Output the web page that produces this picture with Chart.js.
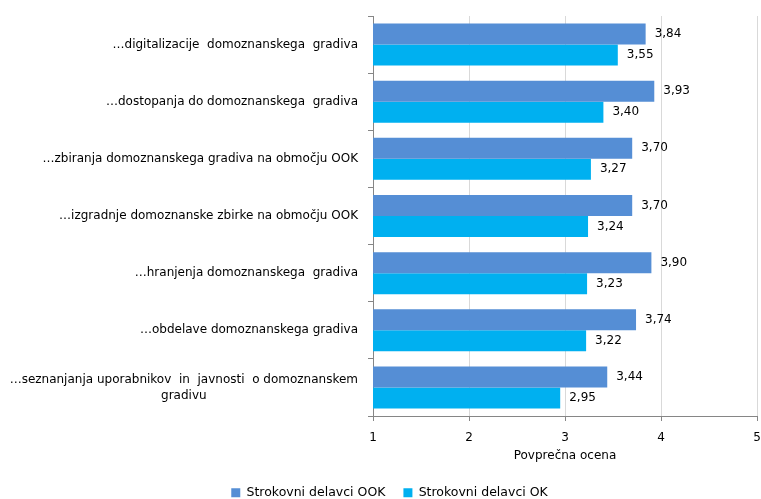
<!DOCTYPE html>
<html>
<head>
<meta charset="utf-8">
<script src="https://cdn.jsdelivr.net/npm/chart.js@4.4.0/dist/chart.umd.min.js"></script>
<style>
  html, body { margin: 0; padding: 0; background: #fff; }
  #wrap { width: 761px; height: 499px; }
</style>
</head>
<body>
<div id="wrap"><canvas id="ch"></canvas></div>
<script>
  // podatki
  const kategorije = [
    ['…digitalizacije  domoznanskega  gradiva'],
    ['…dostopanja do domoznanskega  gradiva'],
    ['…zbiranja domoznanskega gradiva na območju OOK'],
    ['…izgradnje domoznanske zbirke na območju OOK'],
    ['…hranjenja domoznanskega  gradiva'],
    ['…obdelave domoznanskega gradiva'],
    ['…seznanjanja uporabnikov  in  javnosti  o domoznanskem', 'gradivu'],
  ];
  const ocenaOOK = [3.84, 3.93, 3.70, 3.70, 3.90, 3.74, 3.44];
  const ocenaOK = [3.55, 3.40, 3.27, 3.24, 3.23, 3.22, 2.95];
  const serije = ['Strokovni delavci OOK', 'Strokovni delavci OK'];
  const osX = { min: 1, max: 5, korak: 1, naslov: 'Povprečna ocena' };

  const pisava = "'DejaVu Sans', sans-serif";
  const siva = '#868686';
  const mreza = '#d9d9d9';

  // oznake vrednosti ob koncu stolpcev
  const oznakeVrednosti = {
    id: 'oznakeVrednosti',
    afterDatasetsDraw(chart) {
      const c = chart.ctx;
      c.save();
      c.font = '12px ' + pisava;
      c.fillStyle = '#000';
      c.textAlign = 'left';
      c.textBaseline = 'middle';
      chart.data.datasets.forEach((ds, i) => {
        chart.getDatasetMeta(i).data.forEach((el, j) => {
          c.fillText(ds.data[j].toFixed(2).replace('.', ','), el.x + 9, el.y);
        });
      });
      c.restore();
    },
  };

  // oznake kategorij (zadnja je v dveh vrsticah, sredinsko poravnana)
  const oznakeKategorij = {
    id: 'oznakeKategorij',
    afterDraw(chart) {
      const c = chart.ctx;
      const y = chart.scales.y;
      const desno = y.right - 15;
      const lh = 16;
      c.save();
      c.font = '12px ' + pisava;
      c.fillStyle = '#000';
      c.textAlign = 'center';
      c.textBaseline = 'middle';
      kategorije.forEach((vrst, i) => {
        const sred = y.getPixelForTick(i);
        const w = Math.max(...vrst.map(t => c.measureText(t).width));
        const x = desno - w / 2;
        vrst.forEach((t, k) => {
          c.fillText(t, x, sred + (k - (vrst.length - 1) / 2) * lh);
        });
      });
      c.restore();
    },
  };

  new Chart(document.getElementById('ch'), {
    type: 'bar',
    data: {
      labels: kategorije,
      datasets: [
        { label: serije[0], data: ocenaOOK, backgroundColor: '#558ed5' },
        { label: serije[1], data: ocenaOK, backgroundColor: '#00b0f0' },
      ],
    },
    plugins: [oznakeVrednosti, oznakeKategorij],
    options: {
      indexAxis: 'y',
      responsive: true, maintainAspectRatio: false,
      animation: false,
      datasets: { bar: { categoryPercentage: 0.735, barPercentage: 1 } },
      layout: { padding: { top: 16, right: 4, left: 22, bottom: -10 } },
      plugins: {
        tooltip: { enabled: false },
        legend: {
          position: 'bottom',
          labels: {
            font: { family: pisava, size: 12.5 },
            color: '#000',
            boxWidth: 9, boxHeight: 9,
            padding: 18,
            useBorderRadius: false,
          },
        },
      },
      scales: {
        x: {
          min: osX.min, max: osX.max,
          grid: { color: mreza, tickColor: siva, tickLength: 5 },
          border: { color: siva },
          ticks: { stepSize: osX.korak, color: '#000', padding: 10, font: { family: pisava, size: 12 } },
          title: {
            display: true, text: osX.naslov, color: '#000',
            font: { family: pisava, size: 12 },
            padding: { top: 0, bottom: 5 },
          },
          afterFit: s => { s.paddingLeft = 0; s.paddingRight = 0; s.height = 52.5; },
        },
        y: {
          grid: { drawOnChartArea: false, color: siva, tickLength: 5, offset: true },
          border: { color: siva },
          ticks: { display: false },
          afterFit: s => { s.width = 373 - 22; },
        },
      },
    },
  });
</script>
</body>
</html>
